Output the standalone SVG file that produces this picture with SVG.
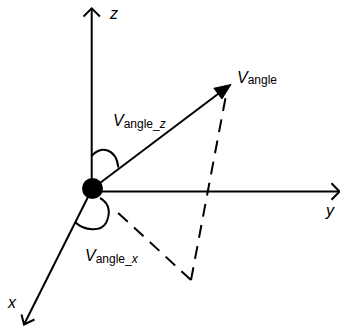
<svg xmlns="http://www.w3.org/2000/svg" width="340" height="326" viewBox="0 0 340 326">
  <style>
    .ln { stroke: #000; stroke-width: 2; fill: none; }
    .dash { stroke: #000; stroke-width: 2; fill: none; stroke-dasharray: 13 8.5; }
    .head { stroke: #000; stroke-width: 2; fill: none; stroke-linejoin: miter; }
    .t { font-family: "Liberation Sans", Arial, sans-serif; fill: #000; }
    .big { font-size: 16px; font-style: italic; }
    .sub { font-size: 12px; font-style: normal; }
    .it { font-style: italic; }
  </style>
  <rect width="340" height="326" fill="#fff"/>
  <g id="connectors">
    <line class="ln" x1="91.7" y1="189" x2="91.7" y2="8.5"/>
    <polyline class="head" points="83.5,16.5 91.7,8.3 99.9,16.5"/>
    <line class="ln" x1="92" y1="191.5" x2="339" y2="191.5"/>
    <polyline class="head" points="331.5,183.2 339.5,191.5 331.5,199.8"/>
    <line class="ln" x1="92" y1="189" x2="24" y2="324.5"/>
    <polyline class="head" points="21.5,314.5 24,324.5 34.5,319.5"/>
    <line class="ln" x1="92" y1="189" x2="222" y2="91"/>
    <polygon points="231,84.5 221.9,99 213.9,88.3" fill="#000" stroke="#000" stroke-width="1"/>
    <path class="dash" d="M191,280 L115,210"/>
    <path class="dash" d="M191,280 L227,90"/>
    <path class="ln" d="M91.7,156 C99,146 116,147 118.3,167.5"/>
    <path class="ln" d="M75,222 C84,231 101,232 106,223 C110,215 111,204 100,198"/>
  </g>
  <g id="origin">
    <circle cx="92.5" cy="188.5" r="10.5" fill="#000"/>
  </g>
  <g id="labels">
    <text class="t big" x="110" y="19">z</text>
    <text class="t big" x="326" y="215.5">y</text>
    <text class="t big" x="8" y="308">x</text>
    <text class="t big" x="237" y="83">V<tspan class="sub" dy="1">angle</tspan></text>
    <text class="t big" x="113" y="126">V<tspan class="sub" dy="2">angle_<tspan class="it">z</tspan></tspan></text>
    <text class="t big" x="85" y="261">V<tspan class="sub" dy="2">angle_<tspan class="it">x</tspan></tspan></text>
  </g>
</svg>
